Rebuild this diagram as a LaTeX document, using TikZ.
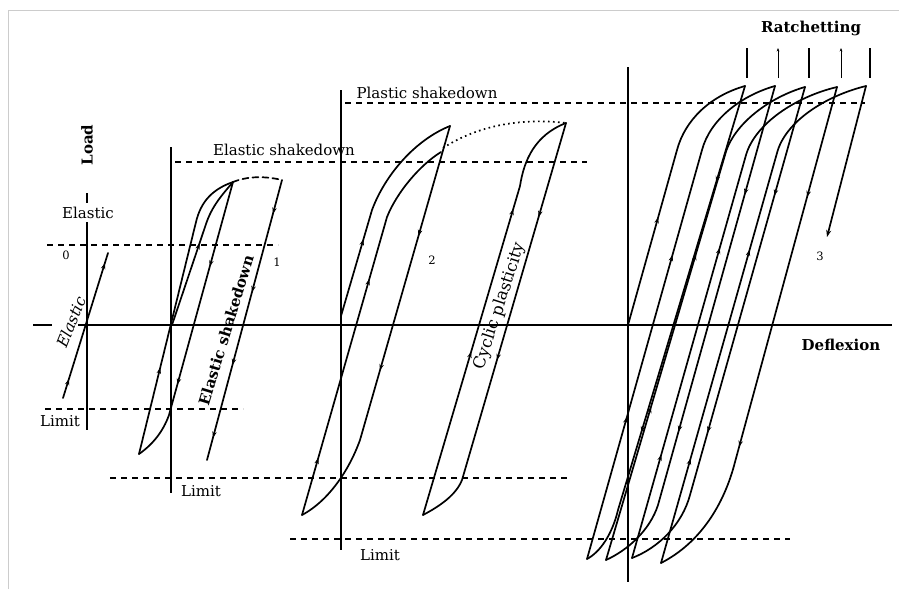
\documentclass[tikz,border=0pt]{standalone}
\usepackage{fontspec}
\setmainfont{DejaVu Serif}
\usetikzlibrary{arrows.meta,decorations.markings}
\begin{document}
\begin{tikzpicture}[x=1pt,y=-1pt,
  crv/.style={line width=1.7pt,line join=round,line cap=round},
  ax/.style={line width=1.5pt},
  dsh/.style={line width=1.2pt,dash pattern=on 6pt off 5pt},
  lbl/.style={font=\fontsize{15}{15}\selectfont,inner sep=0pt},
  bl/.style={font=\fontsize{15}{15}\selectfont\bfseries,inner sep=0pt},
  num/.style={font=\fontsize{11.5}{11.5}\selectfont,inner sep=0pt},
  am/.style={postaction={decorate,decoration={markings,mark=at position #1 with {\arrow{Stealth[length=6pt,width=4.5pt]}}}}},
]
\useasboundingbox (0,0) rectangle (899,589);
% frame
\draw[gray!40,line width=0.8pt] (8,589) -- (8,10) -- (899,10);
% main axis
\draw[ax] (33,325) -- (52,325);
\draw[ax] (78,325) -- (892,325);
% verticals
\draw[ax] (87,193) -- (87,203);
\draw[ax] (87,222) -- (87,430);
\draw[ax] (171,147) -- (171,493);
\draw[ax] (341,90) -- (341,550);
\draw[ax] (628,67) -- (628,582);
% dashed levels
\draw[dsh] (47,245) -- (278,245);
\draw[dsh] (45,409) -- (243,409);
\draw[dsh] (175,162) -- (587,162);
\draw[dsh] (110,478) -- (570,478);
\draw[dsh] (345,103) -- (865,103);
\draw[dsh] (290,539) -- (790,539);
% loop 0
\draw[crv,am=0.13,am=0.93] (63,398) -- (108,253);
% loop 1
\coordinate (p1) at (233,182);
\coordinate (b1) at (139,454);
\draw[crv,am=0.55] (172,325) -- (206,224) .. controls (212,206) and (222,195) .. (p1);
\draw[crv,am=0.3] (b1) -- (196,222) .. controls (201,201) and (213,189) .. (p1);
\draw[crv,am=0.3,am=0.72] (p1) -- (169,415) .. controls (163,432) and (152,445) .. (b1);
\draw[crv,dash pattern=on 6pt off 4pt] (p1) .. controls (248,176) and (265,176) .. (282,180);
\draw[crv,am=0.12,am=0.4,am=0.66,am=0.92] (282,180) -- (207,460);
% loop 2
\coordinate (p2) at (450,126);
\coordinate (b2) at (302,515);
\draw[crv,am=0.35] (341,316) -- (372,210) .. controls (385,175) and (415,140) .. (p2);
\draw[crv,am=0.15,am=0.62] (b2) -- (387,217) .. controls (397,192) and (420,165) .. (441,152);
\draw[crv,am=0.27,am=0.6] (p2) -- (360,440) .. controls (350,468) and (330,500) .. (b2);
\draw[line width=1.7pt,dash pattern=on 1.6pt off 3.4pt] (443,148) .. controls (480,124) and (525,118) .. (566,123);
\coordinate (p2b) at (566,123);
\coordinate (b2b) at (423,515);
\draw[crv,am=0.4,am=0.75] (b2b) -- (520,186) .. controls (524,160) and (535,135) .. (p2b);
\draw[crv,am=0.23,am=0.58] (p2b) -- (462,480) .. controls (456,495) and (440,506) .. (b2b);
% loop 3
\coordinate (q0) at (745,86);
\coordinate (q1) at (775,86);
\coordinate (q2) at (805,87);
\coordinate (q3) at (837,87);
\coordinate (q4) at (866,86);
\coordinate (c0) at (587,559);
\coordinate (c1) at (606,560);
\coordinate (c2) at (632,558);
\coordinate (c3) at (661,563);
\draw[crv,am=0.4] (628,325) -- (677,150) .. controls (685,120) and (710,96) .. (q0);
\draw[crv,am=0.28,am=0.6] (c0) -- (702,150) .. controls (710,120) and (740,96) .. (q1);
\draw[crv,am=0.3,am=0.6] (c1) -- (725,155) .. controls (733,124) and (770,97) .. (q2);
\draw[crv,am=0.2,am=0.6] (c2) -- (746,155) .. controls (755,124) and (795,97) .. (q3);
\draw[crv,am=0.2,am=0.6] (c3) -- (777,153) .. controls (785,122) and (825,96) .. (q4);
\draw[crv,am=0.2,am=0.72] (q0) -- (618,510) .. controls (612,535) and (600,552) .. (c0);
\draw[crv,am=0.22,am=0.7] (q1) -- (658,505) .. controls (650,530) and (628,550) .. (c1);
\draw[crv,am=0.22,am=0.7] (q2) -- (690,495) .. controls (682,525) and (658,548) .. (c2);
\draw[crv,am=0.22,am=0.72] (q3) -- (735,462) .. controls (724,505) and (700,543) .. (c3);
\draw[crv,-{Stealth[length=7pt,width=5pt]}] (q4) -- (827,237);
% ratchetting ticks
\draw[line width=1.3pt] (747,48) -- (747,78);
\draw[line width=0.7pt,-{Stealth[length=3.5pt,width=2.8pt]}] (778,78) -- (778,48);
\draw[line width=1.3pt] (809,48) -- (809,78);
\draw[line width=0.7pt,-{Stealth[length=3.5pt,width=2.8pt]}] (841,78) -- (841,48);
\draw[line width=1.3pt] (870,48) -- (870,78);
% labels
\node[bl,rotate=90] (load) at (87,145) {Load};
\node[lbl] (elas) at (88,213) {Elastic};
\node[num] (n0) at (66,255) {0};
\node[num] (n1) at (277,262) {1};
\node[num] (n2) at (432,260) {2};
\node[num] (n3) at (820,256) {3};
\node[lbl] (esd) at (284,150) {Elastic shakedown};
\node[lbl] (psd) at (427,93) {Plastic shakedown};
\node[bl] (rat) at (811,28) {Ratchetting};
\node[bl] (def) at (841,345) {Deflexion};
\node[lbl] (lim0) at (60,421) {Limit};
\node[lbl] (lim1) at (201,491) {Limit};
\node[lbl] (lim2) at (380,555) {Limit};
\node[lbl,font=\fontsize{15.5}{15.5}\selectfont\itshape,rotate=68] (rel) at (71,322) {Elastic};
\node[bl,rotate=73] (resd) at (226,330) {Elastic shakedown};
\node[lbl,font=\fontsize{16.5}{16.5}\selectfont,rotate=72] (rcp) at (500,306) {Cyclic plasticity};
\end{tikzpicture}
\end{document}
